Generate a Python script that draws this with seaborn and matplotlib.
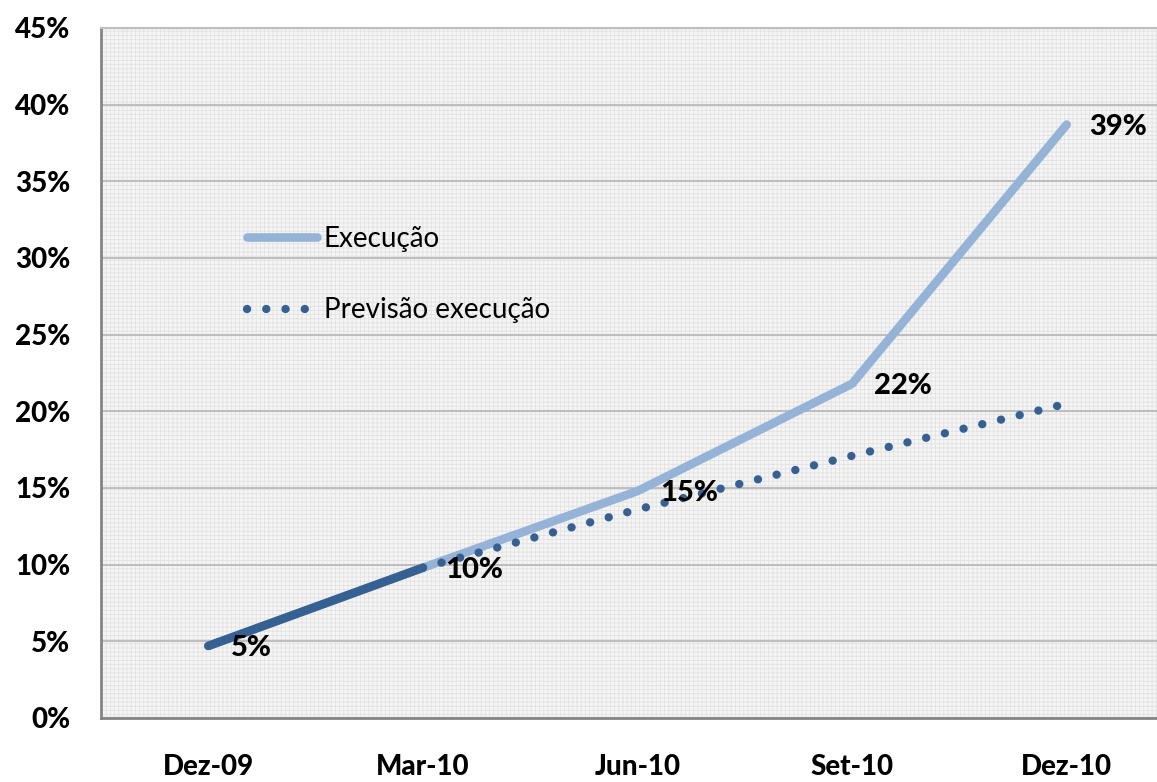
import matplotlib
matplotlib.use("Agg")
import matplotlib.pyplot as plt
import seaborn as sns
import pandas as pd
import numpy as np
from matplotlib.patches import Rectangle
from matplotlib.lines import Line2D

# ---- data ----
categories = ["Dez-09", "Mar-10", "Jun-10", "Set-10", "Dez-10"]
execucao = [4.7, 9.8, 14.8, 21.8, 38.7]
previsao = [np.nan, 9.8, 13.6, 17.1, 20.5]
y_ticks = [0, 5, 10, 15, 20, 25, 30, 35, 40, 45]
series_names = ["Execução", "Previsão execução"]

light_blue = "#95B3D7"
dark_blue = "#366092"

sns.set_theme(style="white")
plt.rcParams["font.family"] = ["Lato", "DejaVu Sans"]
plt.rcParams["font.weight"] = "bold"

fig = plt.figure(figsize=(11.57, 7.82), dpi=100)
ax = fig.add_axes([101 / 1157, (782 - 718) / 782, 1073 / 1157, 690 / 782])

# patterned background
ax.set_facecolor("#F5F5F5")
plt.rcParams["hatch.linewidth"] = 0.6
bg = Rectangle((0, 0), 1, 1, transform=ax.transAxes, facecolor="none",
               edgecolor="#E2E2E2", hatch="++++", linewidth=0, zorder=0)
ax.add_patch(bg)

x = np.arange(len(categories))
df_exec = pd.DataFrame({"x": x, "y": execucao})
df_prev = pd.DataFrame({"x": x, "y": previsao}).dropna()
df_done = df_exec.iloc[:2]

dot_style = (0, (0.01, 2.3))
sns.lineplot(data=df_exec, x="x", y="y", ax=ax, color=light_blue, linewidth=6.2,
             solid_capstyle="round", legend=False, zorder=3)
sns.lineplot(data=df_prev, x="x", y="y", ax=ax, color=dark_blue, linewidth=6,
             linestyle=dot_style, dash_capstyle="round", legend=False, zorder=4)
sns.lineplot(data=df_done, x="x", y="y", ax=ax, color=dark_blue, linewidth=6.2,
             solid_capstyle="round", legend=False, zorder=5)

HEAVY = 900

# data labels
for xi, v in zip(x, execucao):
    ax.annotate(f"{round(v)}%", (xi, v), xytext=(16, -1.5), textcoords="offset points",
                ha="left", va="center", fontsize=21, fontweight=HEAVY, color="black",
                zorder=6)

ax.set_xlim(-0.5, len(categories) - 0.5)
ax.set_ylim(0, 45)
ax.set_xticks(x)
ax.set_xticklabels(categories, fontsize=20, fontweight=HEAVY, color="black")
ax.set_yticks(y_ticks)
ax.set_yticklabels([f"{t}%" for t in y_ticks], fontsize=20, fontweight=HEAVY,
                   color="black")
ax.tick_params(axis="y", length=0, pad=22)
ax.tick_params(axis="x", length=0, pad=26)
ax.set_xlabel("")
ax.set_ylabel("")

ax.yaxis.grid(True, color="#BEBEBE", linewidth=1.5, zorder=1)
ax.set_axisbelow(True)

ax.spines["right"].set_visible(False)
ax.spines["top"].set_color("#BEBEBE")
ax.spines["top"].set_linewidth(1.5)
for s in ["left", "bottom"]:
    ax.spines[s].set_color("#858585")
    ax.spines[s].set_linewidth(2)

handles = [
    Line2D([], [], color=light_blue, linewidth=6.2, solid_capstyle="round"),
    Line2D([], [], color=dark_blue, linewidth=6, linestyle=dot_style,
           dash_capstyle="round"),
]
leg = ax.legend(handles, series_names, loc="upper left",
                bbox_to_anchor=(0.113, 0.75), frameon=False,
                prop={"family": ["Lato", "DejaVu Sans"], "size": 20, "weight": "normal"},
                handlelength=2.5, handletextpad=0.25, labelspacing=1.65)
for t in leg.get_texts():
    t.set_color("black")

fig.savefig("out.png", dpi=100)
